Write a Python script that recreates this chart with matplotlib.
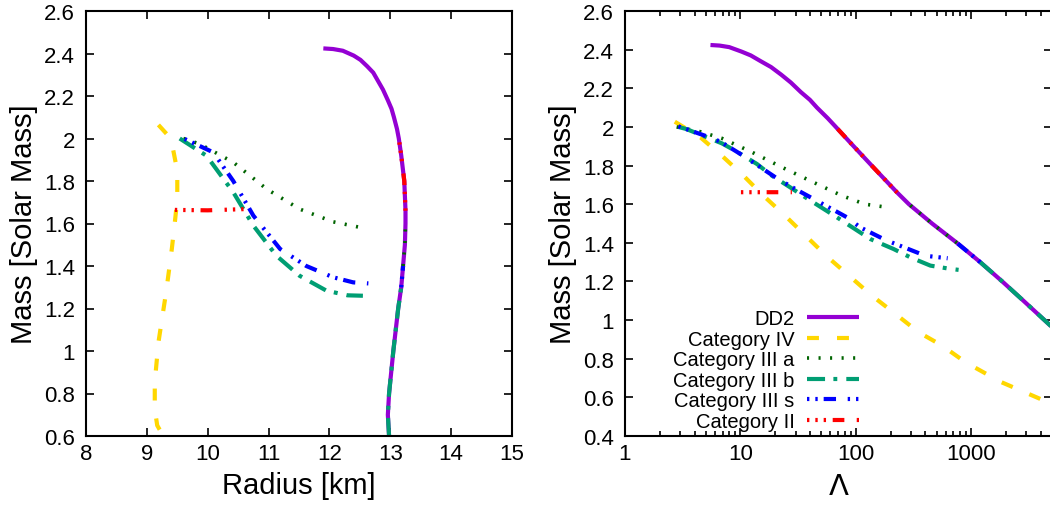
import numpy as np
import matplotlib.pyplot as plt
from matplotlib.ticker import MultipleLocator, FormatStrFormatter, LogLocator, NullFormatter, FixedLocator

plt.rcParams['font.family'] = ['Liberation Sans', 'DejaVu Sans']
plt.rcParams['lines.scale_dashes'] = False

# DD2 sequence: mass, radius (km), tidal deformability
dd2_mass = [0.6, 0.7, 0.8, 0.9, 1.0, 1.1, 1.2, 1.3, 1.4, 1.5, 1.6, 1.66, 1.8, 1.92,
            2.0, 2.045, 2.1, 2.14, 2.18, 2.23, 2.27, 2.31, 2.34, 2.37, 2.39, 2.413, 2.421, 2.424]
dd2_radius = [12.98, 12.96, 12.98, 13.015, 13.05, 13.09, 13.13, 13.18, 13.21, 13.24, 13.25,
              13.25, 13.23, 13.18, 13.14, 13.11, 13.06, 13.02, 12.96, 12.88, 12.80, 12.72,
              12.62, 12.51, 12.40, 12.22, 12.06, 11.90]
dd2_lambda = [26000, 16000, 10000, 6530, 4300, 2830, 1854, 1194, 750, 457, 288, 228, 137, 89,
              67, 57, 46, 40, 33.4, 27.3, 22.6, 18.4, 15.0, 12.3, 10.2, 8.0, 6.6, 5.5]

# part of the DD2 branch shared by each category (mass range)
shared = {
    "IV": None,
    "IIIa": (1.4, 1.6),
    "IIIb": (0.6, 1.3),
    "IIIs": (1.3, 1.4),
    "II": (1.66, 2.0),
}

# own branches, left panel (radius, mass)
iv_r = [9.19, 9.33, 9.43, 9.50, 9.50, 9.46, 9.41, 9.32, 9.19, 9.13, 9.13, 9.17, 9.27]
iv_m = [2.064, 2.02, 1.95, 1.848, 1.715, 1.606, 1.48, 1.284, 1.04, 0.853, 0.727, 0.65, 0.6]
iiia_r = [9.6, 9.87, 10.42, 10.97, 11.51, 12.06, 12.5]
iiia_m = [2.0, 1.974, 1.888, 1.762, 1.668, 1.608, 1.582]
iiib_r = [9.54, 9.98, 10.42, 10.75, 11.13, 11.51, 11.95, 12.3, 12.55]
iiib_m = [2.0, 1.919, 1.747, 1.59, 1.448, 1.354, 1.284, 1.262, 1.26]
iiis_r = [9.62, 10.09, 10.42, 10.75, 11.19, 11.62, 12.06, 12.39, 12.64]
iiis_m = [1.998, 1.935, 1.80, 1.637, 1.48, 1.40, 1.347, 1.323, 1.318]
ii_r = [9.46, 10.0, 10.64]
ii_m = [1.664, 1.662, 1.668]

# own branches, right panel (Lambda, mass)
iv_l = [2.7, 4.5, 6.9, 10.6, 15.8, 24.4, 56, 138, 220, 350, 558, 900, 1800, 4400, 6000]
iv_lm = [2.027, 1.946, 1.851, 1.748, 1.644, 1.54, 1.33, 1.126, 1.032, 0.937, 0.868, 0.78,
         0.68, 0.58, 0.56]
iiia_l = [2.8, 4.5, 6.9, 12.6, 22.9, 41.6, 75.7, 120, 186]
iiia_lm = [2.0, 1.975, 1.941, 1.869, 1.791, 1.717, 1.644, 1.60, 1.584]
iiib_l = [2.9, 3.4, 6.9, 9, 13.9, 18.7, 27, 36.4, 68.5, 133, 212, 296, 442, 659, 776]
iiib_lm = [2.0, 1.989, 1.915, 1.877, 1.808, 1.748, 1.687, 1.636, 1.532, 1.42, 1.368, 1.325,
           1.282, 1.265, 1.26]
iiis_l = [2.9, 4.9, 6.7, 10.3, 20.7, 29.8, 43, 83.7, 109, 180, 400, 624]
iiis_lm = [2.003, 1.955, 1.924, 1.855, 1.734, 1.679, 1.627, 1.532, 1.48, 1.415, 1.333, 1.32]
ii_l = [10.1, 18, 27.9]
ii_lm = [1.662, 1.662, 1.662]

labels = ["DD2", "Category IV", "Category III a", "Category III b",
          "Category III s", "Category II"]
colors = ["#9400d3", "#ffd700", "#006400", "#009e73", "#0000ff", "#ff0000"]
styles = [
    dict(ls="-", lw=3.0),
    dict(ls=(0, (8.6, 13)), lw=3.0),
    dict(ls=(0, (1.5, 6.8)), lw=2.6),
    dict(ls=(0, (13, 6, 2.8, 6.5)), lw=3.0),
    dict(ls=(0, (1.7, 4.3, 1.7, 4.3, 8.9, 8.4)), lw=3.0),
    dict(ls=(0, (1.7, 4.3, 1.7, 4.3, 1.7, 4.8, 8.4, 8.9)), lw=3.0),
]

dm = np.array(dd2_mass)
dr = np.array(dd2_radius)
dl = np.array(dd2_lambda)


def join(key, xs_dd2, bx, by):
    rng = shared[key]
    if rng is None:
        return np.array(bx), np.array(by)
    sel = (dm >= rng[0] - 1e-9) & (dm <= rng[1] + 1e-9)
    x = np.concatenate([xs_dd2[sel], [np.nan], bx])
    y = np.concatenate([dm[sel], [np.nan], by])
    return x, y


left_series = [(dr, dm)] + [join(k, dr, bx, by) for k, bx, by in [
    ("IV", iv_r, iv_m), ("IIIa", iiia_r, iiia_m), ("IIIb", iiib_r, iiib_m),
    ("IIIs", iiis_r, iiis_m), ("II", ii_r, ii_m)]]
right_series = [(dl, dm)] + [join(k, dl, bx, by) for k, bx, by in [
    ("IV", iv_l, iv_lm), ("IIIa", iiia_l, iiia_lm), ("IIIb", iiib_l, iiib_lm),
    ("IIIs", iiis_l, iiis_lm), ("II", ii_l, ii_lm)]]

W, H = 1050, 506
fig = plt.figure(figsize=(W / 100, H / 100), dpi=100)
ax1 = fig.add_axes([86 / W, 69 / H, 426 / W, 425 / H])
ax2 = fig.add_axes([625 / W, 69 / H, 427 / W, 425 / H])

for i, (x, y) in enumerate(left_series):
    ax1.plot(x, y, color=colors[i], solid_capstyle="butt", dash_capstyle="butt", **styles[i])
for i, (x, y) in enumerate(right_series):
    ax2.plot(x, y, color=colors[i], solid_capstyle="butt", dash_capstyle="butt",
             label=labels[i], **styles[i])

ax1.set_xlim(8, 15)
ax1.set_ylim(0.6, 2.6)
ax1.xaxis.set_major_locator(MultipleLocator(1))
ax1.yaxis.set_major_locator(MultipleLocator(0.2))
ax1.yaxis.set_major_formatter(FormatStrFormatter("%g"))
ax1.set_xlabel("Radius [km]", fontsize=21, labelpad=5)
ax1.set_ylabel("Mass [Solar Mass]", fontsize=21, labelpad=4)

ax2.set_xscale("log")
ax2.set_xlim(1, 5000)
ax2.set_ylim(0.4, 2.6)
ax2.xaxis.set_major_locator(FixedLocator([1, 10, 100, 1000]))
ax2.xaxis.set_major_formatter(FormatStrFormatter("%g"))
ax2.xaxis.set_minor_locator(LogLocator(base=10, subs=np.arange(2, 10)))
ax2.xaxis.set_minor_formatter(NullFormatter())
ax2.yaxis.set_major_locator(MultipleLocator(0.2))
ax2.yaxis.set_major_formatter(FormatStrFormatter("%g"))
ax2.set_xlabel(r"$\Lambda$", fontsize=21, labelpad=6)
ax2.set_ylabel("Mass [Solar Mass]", fontsize=21, labelpad=4)

for ax in (ax1, ax2):
    ax.tick_params(which="both", direction="in", top=True, right=True,
                   labelsize=16, width=1.2)
    ax.tick_params(which="major", length=6)
    ax.tick_params(which="minor", length=3.5)
    ax.tick_params(axis="y", pad=8)
    ax.tick_params(axis="x", pad=5)
    for s in ax.spines.values():
        s.set_linewidth(1.5)

ax2.legend(loc="lower right", bbox_to_anchor=(859 / W, 74 / H),
           bbox_transform=fig.transFigure, frameon=False, markerfirst=False,
           fontsize=14.5, handlelength=2.6, handletextpad=0.6,
           labelspacing=0.08, borderpad=0, borderaxespad=0)

fig.savefig("out.png", dpi=100)
